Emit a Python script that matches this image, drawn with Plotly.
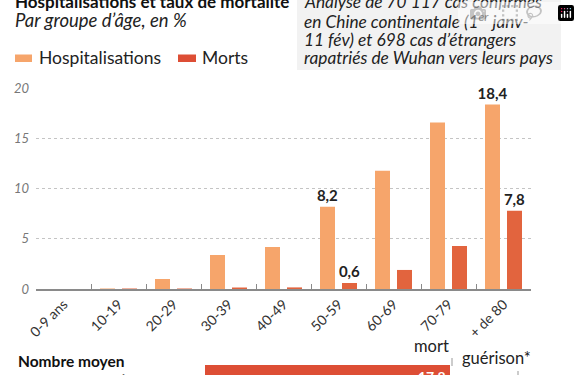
import plotly.graph_objects as go

W, H = 580, 375

categories = ["0-9 ans", "10-19", "20-29", "30-39", "40-49", "50-59", "60-69", "70-79", "+ de 80"]
hospitalisations = [0.0, 0.04, 1.0, 3.4, 4.2, 8.2, 11.8, 16.6, 18.4]
morts = [0.0, 0.01, 0.03, 0.08, 0.16, 0.6, 1.9, 4.3, 7.8]
hosp_labels = ["", "", "", "", "", "8,2", "", "", "18,4"]
morts_labels = ["", "", "", "", "", "0,6", "", "", "7,8"]
y_ticks = [0, 5, 10, 15, 20]

jours_mort = 17.8
jours_label = "17,8"

note_lines = [
    "Analyse de 70 117 cas confirmés",
    "en Chine continentale (1<sup>er</sup> janv-",
    "11 fév) et 698 cas d’étrangers",
    "rapatriés de Wuhan vers leurs pays",
]

ORANGE = "#F6A56B"
RED = "#E2643E"
RED_DARK = "#DD4E35"
FONT = "Lato"


def px(x):
    return x / W


def py(y):
    return 1 - y / H


fig = go.Figure()

bar_font = dict(family=FONT, size=15, color="#222", weight="bold")
fig.add_trace(go.Bar(
    x=categories, y=hospitalisations, marker_color=ORANGE, marker_line_width=0,
    offset=-0.5 + 9 / 55, width=15 / 55,
    text=hosp_labels, textposition="outside", cliponaxis=False, constraintext="none",
    textfont=bar_font, xaxis="x", yaxis="y", showlegend=False,
))
fig.add_trace(go.Bar(
    x=categories, y=morts, marker_color=RED, marker_line_width=0,
    offset=-0.5 + 31 / 55, width=15 / 55,
    text=morts_labels, textposition="outside", cliponaxis=False, constraintext="none",
    textfont=bar_font, xaxis="x", yaxis="y", showlegend=False,
))

# bottom horizontal bar
scale = 245 / jours_mort
fig.add_trace(go.Bar(
    x=[jours_mort], y=[0], orientation="h", width=1, marker_color=RED_DARK,
    marker_line_width=0, xaxis="x2", yaxis="y2", showlegend=False,
))

fig.update_layout(
    width=W, height=H, autosize=False,
    margin=dict(l=0, r=0, t=0, b=0),
    paper_bgcolor="white", plot_bgcolor="white",
    barmode="overlay",
    font=dict(family=FONT, color="#222"),
    xaxis=dict(
        domain=[px(36), px(531)], type="category", tickson="boundaries",
        ticks="inside", ticklen=5, tickcolor="#8a8a8a", tickwidth=1.2,
        showline=True, linecolor="#8a8a8a", linewidth=1.5,
        tickangle=-45, tickfont=dict(family=FONT, size=14, color="#333"),
        showgrid=False, anchor="y", fixedrange=True, automargin=False,
    ),
    yaxis=dict(
        domain=[py(289), py(88.5)], range=[0, 20], tickvals=y_ticks,
        showgrid=True, gridcolor="#c4c4c4", griddash="dot", gridwidth=1,
        zeroline=False, showline=False, ticks="",
        tickfont=dict(family=FONT, size=13, color="#777", style="italic"),
        ticklabelstandoff=6, anchor="x", fixedrange=True, automargin=False,
    ),
    xaxis2=dict(
        domain=[px(205), 1], range=[0, (580 - 205) / scale], visible=False,
        anchor="y2", fixedrange=True, automargin=False,
    ),
    yaxis2=dict(
        domain=[0, py(365)], range=[-0.5, 0.5], visible=False,
        anchor="x2", fixedrange=True, automargin=False,
    ),
)

shapes = [
    dict(type="rect", xref="paper", yref="paper", x0=px(297), x1=px(561), y0=py(70), y1=1.01,
         fillcolor="#f2f2f2", line_width=0, layer="below"),
    dict(type="rect", xref="paper", yref="paper", x0=px(15), x1=px(32), y0=py(62), y1=py(54.5),
         fillcolor=ORANGE, line_width=0),
    dict(type="rect", xref="paper", yref="paper", x0=px(178), x1=px(196), y0=py(62), y1=py(54.5),
         fillcolor=RED_DARK, line_width=0),
    dict(type="line", xref="paper", yref="paper", x0=px(452), x1=px(452), y0=py(366), y1=py(358),
         line=dict(color="#999", width=1)),
    dict(type="line", xref="paper", yref="paper", x0=px(518), x1=px(518), y0=py(376), y1=py(371),
         line=dict(color="#999", width=1)),
]
fig.update_layout(shapes=shapes)

ann = []


def text(x, y, s, size, xanchor="left", yanchor="middle", color="#222", **font):
    ann.append(dict(
        xref="paper", yref="paper", x=px(x), y=py(y), text=s, showarrow=False,
        xanchor=xanchor, yanchor=yanchor, align="left",
        font=dict(family=FONT, size=size, color=color, **font),
    ))


text(13, 1.5, "Hospitalisations et taux de mortalité", 17, weight="bold", color="#111")
text(13, 20.5, "Par groupe d’âge, en %", 18.5, style="italic", color="#222")
text(37, 57.5, "Hospitalisations", 17.5)
text(200, 57.5, "Morts", 17.5)
for i, line in enumerate(note_lines):
    text(302, 1.5 + i * 18.8, line, 17.3, style="italic", color="#222")
text(16, 361, "Nombre moyen", 15.5, weight="bold", color="#111")
text(16, 380, "de jours après l’apparition des symptômes", 15.5, weight="bold", color="#111")
text(451, 346, "mort", 16.5, xanchor="right")
text(460, 358, "guérison*", 16.5)
ann.append(dict(
    xref="x2", yref="paper", x=jours_mort, y=py(366), text=jours_label, showarrow=False,
    xanchor="right", yanchor="top", xshift=-2,
    font=dict(family=FONT, size=14, color="white", weight="bold"),
))
fig.update_layout(annotations=ann)

fig.write_html(
    "out.html",
    post_script="document.body.style.margin='0';document.body.style.overflow='hidden';",
)
